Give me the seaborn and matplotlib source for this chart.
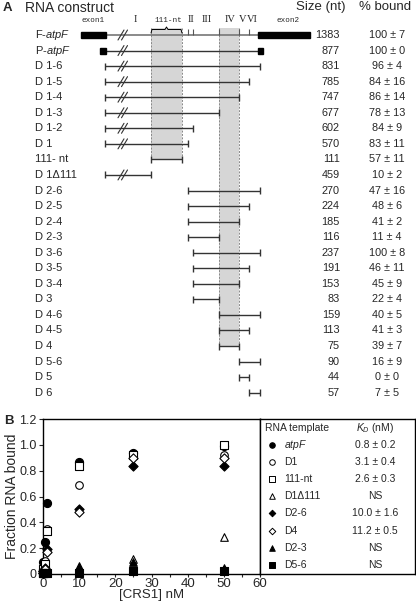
import numpy as np
import pandas as pd
import seaborn as sns
import matplotlib.pyplot as plt
from matplotlib.patches import Rectangle

sns.set_style("ticks")
plt.rcParams['font.family'] = ['Liberation Sans', 'DejaVu Sans']
plt.rcParams['mathtext.fontset'] = 'custom'
plt.rcParams['mathtext.rm'] = 'Liberation Sans'
plt.rcParams['mathtext.it'] = 'Liberation Sans:italic'

# ---------------- panel A data (schematic x units, not to scale) ----------------
constructs = ['F-$\\it{atpF}$', 'P-$\\it{atpF}$', 'D 1-6', 'D 1-5', 'D 1-4', 'D 1-3', 'D 1-2', 'D 1',
              '111- nt', 'D 1\u0394111', 'D 2-6', 'D 2-5', 'D 2-4', 'D 2-3', 'D 3-6', 'D 3-5',
              'D 3-4', 'D 3', 'D 4-6', 'D 4-5', 'D 4', 'D 5-6', 'D 5', 'D 6']
sizes_nt = [1383, 877, 831, 785, 747, 677, 602, 570, 111, 459, 270, 224, 185, 116,
            237, 191, 153, 83, 159, 113, 75, 90, 44, 57]
bound_mean = [100, 100, 96, 84, 86, 78, 84, 83, 57, 10, 47, 48, 41, 11,
              100, 46, 45, 22, 40, 41, 39, 16, 0, 7]
bound_sd = [7, 0, 4, 16, 14, 13, 9, 11, 11, 2, 16, 6, 2, 4,
            8, 11, 9, 4, 5, 3, 7, 9, 0, 5]
seg_start = [106, 106, 105, 105, 105, 105, 105, 105, 151, 105, 188, 188, 188, 188,
             193, 193, 193, 193, 219, 219, 219, 239, 239, 249]
seg_end = [258, 258, 260, 249, 239, 219, 193, 188, 182, 151, 260, 249, 239, 219,
           260, 249, 239, 219, 260, 249, 239, 260, 249, 260]
domain_bounds = [188, 193, 219, 239, 249]
exon1_full = (81, 106)
exon2_full = (258, 310)
exon1_part = (100, 106)
exon2_part = (258, 263)
break_pos = 123
region_labels = ['exon1', 'I', '111-nt', 'II', 'III', 'IV', 'V', 'VI', 'exon2']
region_x = [93, 135, 168, 191, 207, 230, 243, 252, 288]
nt111_box = (151, 182)
d4_box = (219, 239)

# ---------------- panel B data ----------------
conc = [0, 0.1, 0.5, 1, 10, 25, 50]
templates = ['atpF', 'D1', '111-nt', 'D1\u0394111', 'D2-6', 'D4', 'D2-3', 'D5-6']
frac_atpF = [0.01, 0.09, 0.25, 0.55, 0.87, 0.94, 0.99]
frac_D1 = [0.01, 0.05, 0.10, 0.35, 0.69, 0.91, 0.92]
frac_111 = [0.01, 0.04, 0.08, 0.33, 0.84, 0.92, 1.00]
frac_D1d111 = [0.01, 0.01, 0.02, 0.02, 0.05, 0.12, 0.29]
frac_D26 = [0.01, 0.02, 0.05, 0.19, 0.50, 0.84, 0.84]
frac_D4 = [0.01, 0.02, 0.04, 0.17, 0.48, 0.90, 0.90]
frac_D23 = [0.01, 0.01, 0.01, 0.01, 0.06, 0.09, 0.05]
frac_D56 = [0.01, 0.01, 0.01, 0.01, 0.01, 0.02, 0.02]
kd_text = ['0.8 \u00b1 0.2', '3.1 \u00b1 0.4', '2.6 \u00b1 0.3', 'NS',
           '10.0 \u00b1 1.6', '11.2 \u00b1 0.5', 'NS', 'NS']
markers = ['o', 'o', 's', '^', 'D', 'D', '^', 's']
filled = [True, False, False, False, True, False, True, True]
msize = [34, 30, 30, 30, 22, 22, 30, 30]

fracs = [frac_atpF, frac_D1, frac_111, frac_D1d111, frac_D26, frac_D4, frac_D23, frac_D56]
df = pd.DataFrame([(t, c, v) for t, vals in zip(templates, fracs) for c, v in zip(conc, vals)],
                  columns=['template', 'conc', 'frac'])

fig = plt.figure(figsize=(4.16, 6.05), dpi=100)

# ---------------- panel A ----------------
axA = fig.add_axes([0, 0, 1, 1])
axA.set_xlim(0, 416)
axA.set_ylim(605, 0)
axA.axis('off')

row_y = 35 + np.arange(len(constructs)) * 15.55
line_c = '#333333'

# shaded regions
for (x0, x1), last in [(nt111_box, 8), (d4_box, 20)]:
    axA.add_patch(Rectangle((x0, 28), x1 - x0, row_y[last] - 28, facecolor='#d6d6d6',
                            edgecolor='none', zorder=0))
    axA.vlines([x0, x1], 28, row_y[last], colors='#888888', linestyles=(0, (2, 1.5)),
               linewidth=0.7, zorder=1)

# brace over 111-nt
bx0, bx1 = nt111_box
bm = (bx0 + bx1) / 2
axA.plot([bx0, bx0 + 1, bm - 1.5, bm, bm + 1.5, bx1 - 1, bx1],
         [33, 29.5, 29.5, 27, 29.5, 29.5, 33], color='black', lw=0.7)

for lab, x in zip(region_labels, region_x):
    if lab.startswith('exon') or lab == '111-nt':
        axA.text(x, 21, lab, ha='center', va='center', family='Liberation Mono', fontsize=5.5)
    else:
        axA.text(x, 20, lab, ha='center', va='center', family='Liberation Serif', fontsize=7.5)

for i, y in enumerate(row_y):
    axA.text(35, y, constructs[i], ha='left', va='center', fontsize=8)
    axA.text(340, y, str(sizes_nt[i]), ha='right', va='center', fontsize=7.8)
    axA.text(387, y, f'{bound_mean[i]} \u00b1 {bound_sd[i]}', ha='center', va='center',
             fontsize=7.8)
    if i == 0:
        axA.hlines(y, seg_start[i], seg_end[i], color='#777777', lw=1.2)
        axA.vlines(domain_bounds, y - 6, y, color='#555555', lw=0.8)
        for ex in (exon1_full, exon2_full):
            axA.add_patch(Rectangle((ex[0], y - 3), ex[1] - ex[0], 6, color='black', zorder=3))
    elif i == 1:
        axA.hlines(y, seg_start[i], seg_end[i], color=line_c, lw=1)
        for ex in (exon1_part, exon2_part):
            axA.add_patch(Rectangle((ex[0], y - 3), ex[1] - ex[0], 6, color='black', zorder=3))
    else:
        axA.hlines(y, seg_start[i], seg_end[i], color=line_c, lw=1)
        axA.vlines([seg_start[i], seg_end[i]], y - 3.5, y + 3.5, color=line_c, lw=1)
    if seg_start[i] <= 106 and seg_end[i] > break_pos:
        for dx in (-2, 1.5):
            axA.plot([break_pos + dx - 3, break_pos + dx + 3], [y + 5, y - 5],
                     color='#333333', lw=0.8)

axA.text(3, 8, 'A', fontsize=9.5, fontweight='bold', va='center')
axA.text(25, 8, 'RNA construct', fontsize=10, va='center')
axA.text(321, 7, 'Size (nt)', fontsize=9.5, va='center', ha='center')
axA.text(385, 7, '% bound', fontsize=9.5, va='center', ha='center')
axA.text(4, 421, 'B', fontsize=9.5, fontweight='bold', va='center')

# ---------------- panel B ----------------
axB = fig.add_axes([43 / 416, 31 / 605, 217 / 416, 155 / 605])
for t, m, f, s in zip(templates, markers, filled, msize):
    sub = df[df['template'] == t]
    sns.scatterplot(data=sub, x='conc', y='frac', marker=m, s=s, color='black',
                    facecolor='black' if f else 'white', edgecolor='black', linewidth=0.8,
                    ax=axB, legend=False, clip_on=False, zorder=3)
axB.set_xlim(0, 60)
axB.set_ylim(0, 1.2)
axB.set_xticks(range(0, 61, 10))
axB.set_xticks(range(5, 60, 10), minor=True)
axB.set_yticks(np.arange(0, 1.21, 0.2))
axB.set_yticklabels(['0', '0.2', '0.4', '0.6', '0.8', '1.0', '1.2'])
axB.tick_params(axis='y', labelsize=9, length=3, pad=1.5, width=0.8)
axB.tick_params(axis='x', labelsize=9.5, length=2.5, pad=0.5, width=0.8)
axB.tick_params(axis='x', which='minor', length=2, width=0.8)
axB.set_xlabel('[CRS1] nM', fontsize=9.5, labelpad=-1)
axB.set_ylabel('Fraction RNA bound', fontsize=10, labelpad=0)
for sp in axB.spines.values():
    sp.set_visible(True)
    sp.set_linewidth(1)
    sp.set_color('black')

# legend table box
axL = fig.add_axes([260 / 416, 31 / 605, 155 / 416, 155 / 605])
axL.set_xlim(260, 415)
axL.set_ylim(574, 419)
axL.set_xticks([])
axL.set_yticks([])
for sp in axL.spines.values():
    sp.set_visible(True)
    sp.set_linewidth(1)
    sp.set_color('black')
axL.text(265, 428, 'RNA template', fontsize=7.5, va='center')
axL.text(375, 428, '$K_D$ (nM)', fontsize=7.5, va='center', ha='center')
leg_y = 445 + np.arange(len(templates)) * 17.1
for j, (t, m, f) in enumerate(zip(templates, markers, filled)):
    axL.scatter([272], [leg_y[j]], marker=m, s=16 if m != 'D' else 11,
                facecolor='black' if f else 'white', edgecolor='black', linewidth=0.7)
    name = '$\\it{atpF}$' if t == 'atpF' else t
    axL.text(284, leg_y[j], name, fontsize=7.5, va='center')
    axL.text(375, leg_y[j], kd_text[j], fontsize=7.5, va='center', ha='center')

fig.savefig('out.png', dpi=100)
